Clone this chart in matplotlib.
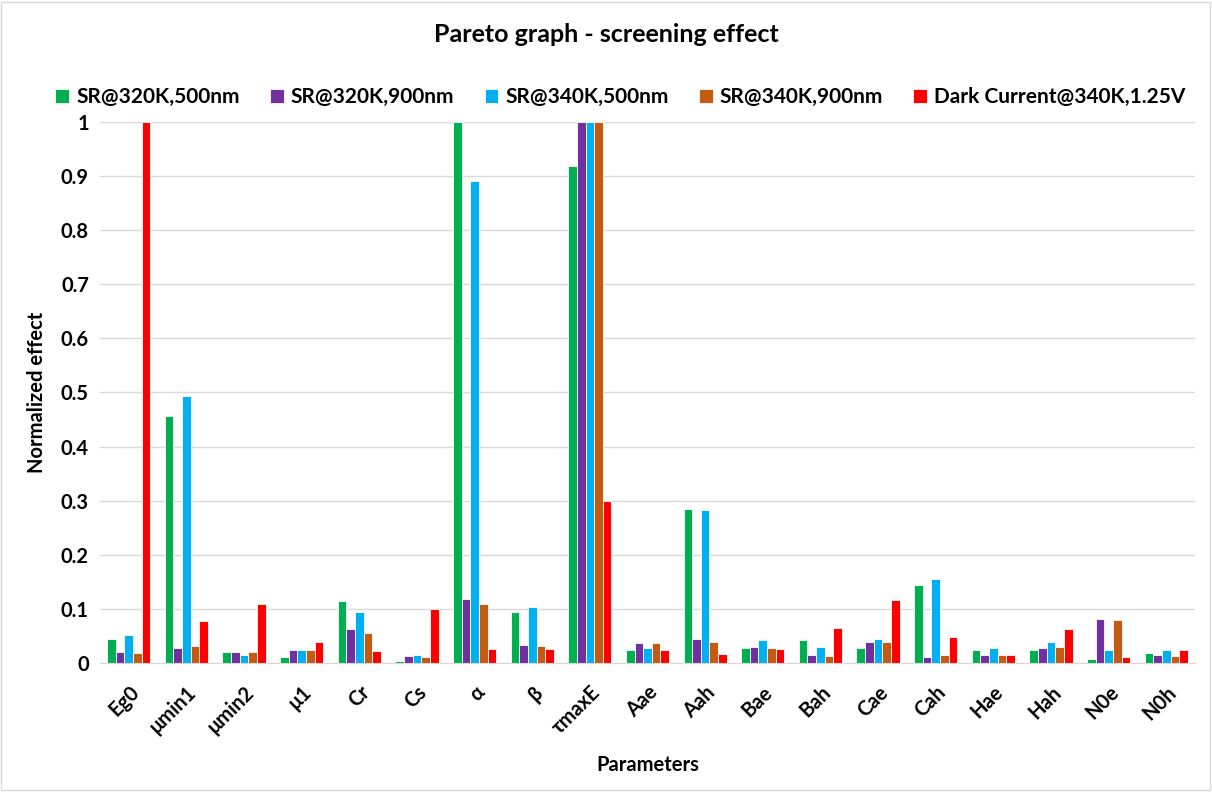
import numpy as np
import matplotlib.pyplot as plt
from matplotlib.patches import Rectangle

plt.rcParams['font.family'] = ['Lato', 'DejaVu Sans']
plt.rcParams['font.weight'] = 'bold'

params = ['Eg0', 'μmin1', 'μmin2', 'μ1', 'Cr', 'Cs', 'α', 'β', 'τmaxE', 'Aae',
          'Aah', 'Bae', 'Bah', 'Cae', 'Cah', 'Hae', 'Hah', 'N0e', 'N0h']

sr_320_500 = [0.045, 0.456, 0.021, 0.011, 0.114, 0.004, 1.0, 0.094, 0.918, 0.024,
              0.285, 0.0275, 0.0425, 0.0275, 0.144, 0.023, 0.023, 0.008, 0.019]
sr_320_900 = [0.020, 0.0275, 0.021, 0.024, 0.062, 0.0125, 0.119, 0.033, 1.0, 0.037,
              0.044, 0.029, 0.014, 0.038, 0.011, 0.014, 0.0275, 0.081, 0.014]
sr_340_500 = [0.051, 0.493, 0.014, 0.024, 0.094, 0.014, 0.89, 0.103, 1.0, 0.0275,
              0.283, 0.0425, 0.029, 0.045, 0.156, 0.0275, 0.039, 0.023, 0.023]
sr_340_900 = [0.018, 0.032, 0.021, 0.023, 0.056, 0.011, 0.109, 0.032, 1.0, 0.037,
              0.039, 0.0275, 0.0125, 0.039, 0.014, 0.014, 0.029, 0.079, 0.0125]
dark_340 = [1.0, 0.078, 0.108, 0.038, 0.022, 0.100, 0.026, 0.026, 0.30, 0.024,
            0.016, 0.026, 0.065, 0.116, 0.047, 0.014, 0.062, 0.011, 0.023]

series = [sr_320_500, sr_320_900, sr_340_500, sr_340_900, dark_340]
labels = ['SR@320K,500nm', 'SR@320K,900nm', 'SR@340K,500nm',
          'SR@340K,900nm', 'Dark Current@340K,1.25V']
colors = ['#00B050', '#7030A0', '#00B0F0', '#C55A11', '#FF0000']

fig = plt.figure(figsize=(12.12, 7.92), dpi=100)
ax = fig.add_axes([0.0825, 0.163, 0.9035, 0.683])

x = np.arange(len(params))
w = 0.15
for i, (vals, lab, c) in enumerate(zip(series, labels, colors)):
    ax.bar(x + (i - 2) * w, vals, width=w, color=c, label=lab,
           edgecolor='white', linewidth=0.6)

ax.set_xlim(-0.5, len(params) - 0.5)
ax.set_ylim(0, 1)
ax.set_yticks(np.arange(0, 1.01, 0.1))
ax.set_yticklabels(['0', '0.1', '0.2', '0.3', '0.4', '0.5', '0.6', '0.7', '0.8', '0.9', '1'])
ax.set_xticks(x)
ax.set_xticklabels(params, rotation=45, ha='right', rotation_mode='anchor')
ax.tick_params(length=0, labelsize=14.5, pad=8)
ax.tick_params(axis='x', pad=14)
ax.grid(axis='y', color='#d9d9d9', linewidth=1)
ax.set_axisbelow(True)
for s in ['top', 'right', 'left']:
    ax.spines[s].set_visible(False)
ax.spines['bottom'].set_color('#d9d9d9')

ax.set_ylabel('Normalized effect', fontsize=14.5, fontweight='bold', labelpad=10)
ax.set_xlabel('Parameters', fontsize=14.5, fontweight='bold', labelpad=12)

fig.text(0.5, 1 - 35 / 792, 'Pareto graph - screening effect', ha='center', va='center',
         fontsize=18, fontweight='bold')
fig.legend(loc='center', bbox_to_anchor=(0.512, 1 - 97 / 792), ncol=5, frameon=False,
           fontsize=15, handlelength=0.65, handleheight=0.65, columnspacing=1.45,
           handletextpad=0.35)

fig.patches.append(Rectangle((0.001, 0.002), 0.997, 0.996, transform=fig.transFigure,
                             fill=False, edgecolor='#d9d9d9', linewidth=1))

fig.savefig('out.png', dpi=100)
